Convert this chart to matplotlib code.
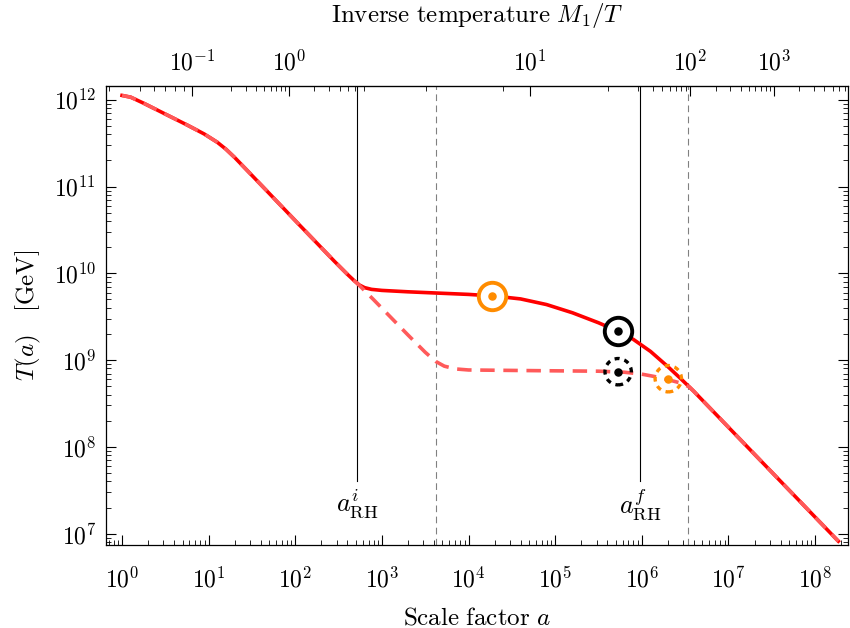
import numpy as np
import matplotlib.pyplot as plt
from matplotlib.ticker import FuncFormatter, NullFormatter

plt.rcParams['mathtext.fontset'] = 'cm'
plt.rcParams['font.family'] = 'serif'
plt.rcParams['font.serif'] = ['DejaVu Serif']

# Curva completa T(a) (log10 a, log10 T/GeV)
loga_solid = [0.0, 0.1, 0.25, 0.5, 0.75, 0.95, 1.1, 1.2, 1.3, 1.45, 1.7, 2.05, 2.45,
              2.6, 2.68, 2.74, 2.80, 2.88, 3.0, 3.3, 3.6, 4.0, 4.3, 4.6, 4.9, 5.2,
              5.5, 5.73, 5.9, 6.1, 6.3, 6.45, 6.6, 8.268]
logT_solid = [12.05, 12.03, 11.96, 11.835, 11.71, 11.605, 11.51, 11.43, 11.335, 11.18,
              10.92, 10.555, 10.14, 9.99, 9.915, 9.865, 9.835, 9.815, 9.803, 9.787,
              9.774, 9.757, 9.738, 9.705, 9.64, 9.545, 9.43, 9.33, 9.24, 9.10, 8.925,
              8.785, 8.64, 6.913]

# Curva a trazos (sin la segunda inyección)
loga_dash = [0.0, 0.1, 0.25, 0.5, 0.75, 0.95, 1.1, 1.2, 1.3, 1.45, 1.7, 2.05, 2.45,
             2.6, 2.68, 2.74, 2.90, 3.1, 3.3, 3.5, 3.62, 3.72, 3.85, 4.0, 4.8, 5.5,
             5.8, 6.0, 6.15, 6.3, 6.45, 6.55, 6.6, 8.268]
logT_dash = [12.05, 12.03, 11.96, 11.835, 11.71, 11.605, 11.51, 11.43, 11.335, 11.18,
             10.92, 10.555, 10.14, 9.99, 9.915, 9.86, 9.70, 9.495, 9.29, 9.09, 8.985,
             8.93, 8.898, 8.886, 8.878, 8.872, 8.86, 8.838, 8.81, 8.775, 8.735, 8.69,
             8.64, 6.913]

# Círculos (a, T)
circ_full = [(1.87e4, 5.47e9), (5.33e5, 2.14e9)]
circ_dot = [(5.33e5, 7.35e8), (2.02e6, 6.1e8)]
circ_colors = ['#FF8C00', 'black']

# Líneas verticales
a_RH = [517, 9.6e5]
a_RH_labels = [r'$a^{i}_{\mathrm{RH}}$', r'$a^{f}_{\mathrm{RH}}$']
a_dashed = [4230, 3.44e6]

# Marcas de los ejes
x_ticks = [1e0, 1e1, 1e2, 1e3, 1e4, 1e5, 1e6, 1e7, 1e8]
y_ticks = [1e7, 1e8, 1e9, 1e10, 1e11, 1e12]
top_ticks = [1e-1, 1e0, 1e1, 1e2, 1e3]

M1 = 4.8e10

la = np.array(loga_solid)
lt = np.array(logT_solid)
s0 = (lt[1] - lt[0]) / (la[1] - la[0])
s1 = (lt[-1] - lt[-2]) / (la[-1] - la[-2])
la_ext = np.r_[la[0] - 10, la, la[-1] + 10]
lt_ext = np.r_[lt[0] - 10 * s0, lt, lt[-1] + 10 * s1]


def a_to_inv(a):
    a = np.clip(np.asarray(a, float), 1e-30, None)
    return M1 / 10 ** np.interp(np.log10(a), la_ext, lt_ext)


def inv_to_a(z):
    z = np.clip(np.asarray(z, float), 1e-30, None)
    return 10 ** np.interp(np.log10(M1 / z), lt_ext[::-1], la_ext[::-1])


fig = plt.figure(figsize=(8.5, 6.28), dpi=100)
ax = fig.add_axes([0.1247, 0.1322, 0.873, 0.7308])
ax.set_xscale('log')
ax.set_yscale('log')

ax.plot(10 ** la, 10 ** lt, color='#FF0000', lw=2.6, zorder=3)
ax.plot(10 ** np.array(loga_dash), 10 ** np.array(logT_dash), color='#FF5A5A',
        lw=2.6, dashes=(4, 2.4), zorder=4)

for (a, T), c in zip(circ_full, circ_colors):
    ax.scatter([a], [T], s=390, facecolors='white', edgecolors=c, linewidths=2.8, zorder=6)
    ax.scatter([a], [T], s=26, color=c, zorder=7)
for (a, T), c in zip(circ_dot, circ_colors[::-1]):
    ax.scatter([a], [T], s=360, facecolors='none', edgecolors=c, linewidths=2.4,
               linestyle=(0, (1.5, 1.5)), zorder=6)
    ax.scatter([a], [T], s=26, color=c, zorder=7)

for a, lab in zip(a_RH, a_RH_labels):
    ax.plot([a, a], [4.0e7, 2e12], color='black', lw=0.8, zorder=2)
    ax.text(a, 2.2e7, lab, ha='center', va='center', fontsize=19)
for a in a_dashed:
    ax.axvline(a, color='gray', lw=0.8, dashes=(6, 4), zorder=2)

ax.set_xlim(0.653, 2.4e8)
ax.set_ylim(7.4e6, 1.44e12)

fmt = FuncFormatter(lambda v, p: r'$10^{%d}$' % round(np.log10(v)))
ax.set_xticks(x_ticks)
ax.set_yticks(y_ticks)
ax.xaxis.set_major_formatter(fmt)
ax.yaxis.set_major_formatter(fmt)
ax.xaxis.set_minor_formatter(NullFormatter())
ax.yaxis.set_minor_formatter(NullFormatter())
ax.tick_params(which='both', direction='in', top=False, right=True, labelsize=17)
ax.tick_params(which='major', length=7, width=0.8)
ax.tick_params(which='minor', length=3.5, width=0.6)
ax.tick_params(axis='x', pad=16)
ax.tick_params(axis='y', pad=7)

top = ax.secondary_xaxis('top', functions=(a_to_inv, inv_to_a))
top.set_xticks(top_ticks)
top.xaxis.set_major_formatter(fmt)
top.xaxis.set_minor_formatter(NullFormatter())
top.tick_params(which='both', direction='in', labelsize=17, pad=8)
top.tick_params(which='major', length=7, width=0.8)
top.tick_params(which='minor', length=3.5, width=0.6)
top.set_xlabel(r'$\mathrm{Inverse\ temperature}\ M_1/T$', fontsize=18, labelpad=20)

ax.set_xlabel(r'$\mathrm{Scale\ factor}\ a$', fontsize=18, labelpad=10)
ax.set_ylabel(r'$T(a)\quad[\mathrm{GeV}]$', fontsize=18, labelpad=8)

for s in ax.spines.values():
    s.set_linewidth(0.9)

fig.savefig('out.png', dpi=100)
